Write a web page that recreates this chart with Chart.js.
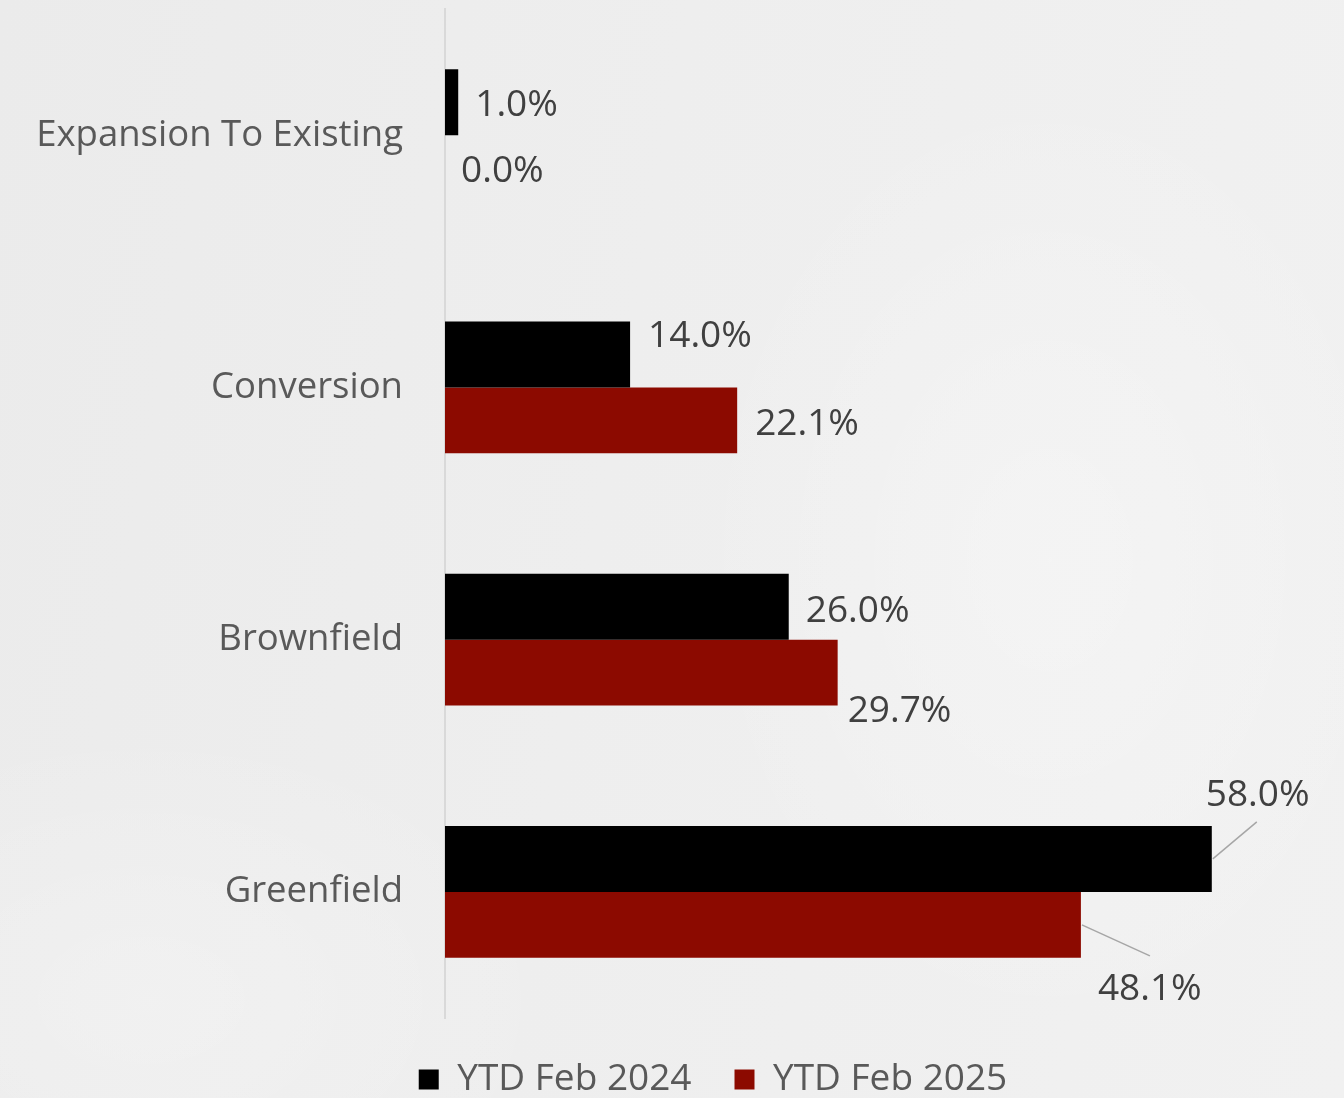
<!DOCTYPE html>
<html>
<head>
<meta charset="utf-8">
<script src="https://cdn.jsdelivr.net/npm/chart.js@4.4.1/dist/chart.umd.min.js"></script>
<style>
html,body{margin:0;padding:0;width:1344px;height:1098px;overflow:hidden;}
body{
  background:
    radial-gradient(ellipse 520px 700px at 1050px 560px, rgba(255,255,255,0.3), rgba(255,255,255,0) 70%),
    radial-gradient(ellipse 600px 400px at 150px 1000px, rgba(255,255,255,0.25), rgba(255,255,255,0) 70%),
    linear-gradient(100deg,#ebebeb 0%,#eeeeee 45%,#f1f1f1 100%);
}
#wrap{position:relative;width:1344px;height:1098px;}
</style>
</head>
<body>
<div id="wrap"><canvas id="c"></canvas></div>
<script>
// ---- data ----
const categories = ['Expansion To Existing', 'Conversion', 'Brownfield', 'Greenfield'];
const seriesNames = ['YTD Feb 2024', 'YTD Feb 2025'];
const values2024 = [1.0, 14.0, 26.0, 58.0];
const values2025 = [0.0, 22.1, 29.7, 48.1];
const axisMin = 0;
const axisMax = 68;

// ---- style ----
const colors = ['#000000', '#8C0A00'];
const FONT = '"Open Sans", "Noto Sans", sans-serif';
// label placement relative to bar end (dx = left of text, dy = vertical centre of caps)
// lx/ly: optional leader line end relative to bar end
const labelPlacement = [
  [{dx:17, dy:1}, {dx:18, dy:-21}, {dx:17, dy:2}, {dx:-6, dy:-66, lx:45, ly:-37}],
  [{dx:16, dy:1}, {dx:18, dy:1}, {dx:10, dy:36}, {dx:17, dy:62, lx:69, ly:31}]
];

const dataLabelPlugin = {
  id: 'dataLabels',
  afterDatasetsDraw(chart) {
    const ctx = chart.ctx;
    const size = 37;
    ctx.save();
    ctx.font = size + 'px ' + FONT;
    ctx.fillStyle = '#404040';
    ctx.textAlign = 'left';
    ctx.textBaseline = 'alphabetic';
    const capHalf = size * 0.714 / 2;
    chart.data.datasets.forEach((ds, di) => {
      const meta = chart.getDatasetMeta(di);
      meta.data.forEach((bar, i) => {
        const p = labelPlacement[di][i];
        const x = bar.x, y = bar.y;
        if (p.lx !== undefined) {
          ctx.strokeStyle = '#a6a6a6';
          ctx.lineWidth = 1.5;
          ctx.beginPath();
          ctx.moveTo(x + 1, y);
          ctx.lineTo(x + p.lx, y + p.ly);
          ctx.stroke();
        }
        const txt = ds.data[i].toFixed(1) + '%';
        ctx.fillText(txt, x + p.dx, y + p.dy + capHalf);
      });
    });
    ctx.restore();
  }
};

function build() {
  new Chart(document.getElementById('c'), {
    type: 'bar',
    data: {
      labels: categories,
      datasets: [
        { label: seriesNames[0], data: values2024, backgroundColor: colors[0] },
        { label: seriesNames[1], data: values2025, backgroundColor: colors[1] }
      ]
    },
    options: {
      indexAxis: 'y',
      responsive: true,
      maintainAspectRatio: false,
      animation: false,
      layout: { padding: { top: 9, bottom: -10, left: 0, right: -82 } },
      datasets: { bar: { categoryPercentage: 0.523, barPercentage: 1.0 } },
      scales: {
        x: {
          display: false,
          min: axisMin,
          max: axisMax
        },
        y: {
          grid: { display: false, drawTicks: false },
          border: { display: true, color: '#d9d9d9', width: 2 },
          ticks: { color: '#595959', font: { family: FONT, size: 36.5 }, padding: 42 },
          afterFit(s) { s.width = 445; s.paddingTop = 0; s.paddingBottom = 0; }
        }
      },
      plugins: {
        tooltip: { enabled: false },
        legend: {
          position: 'bottom',
          labels: {
            boxWidth: 20, boxHeight: 20, padding: 43,
            color: '#595959',
            font: { family: FONT, size: 37 }
          }
        }
      }
    },
    plugins: [dataLabelPlugin]
  });
}
if (document.fonts && document.fonts.load) {
  Promise.all([document.fonts.load('36px "Open Sans"')]).then(build, build);
} else build();
</script>
</body>
</html>
